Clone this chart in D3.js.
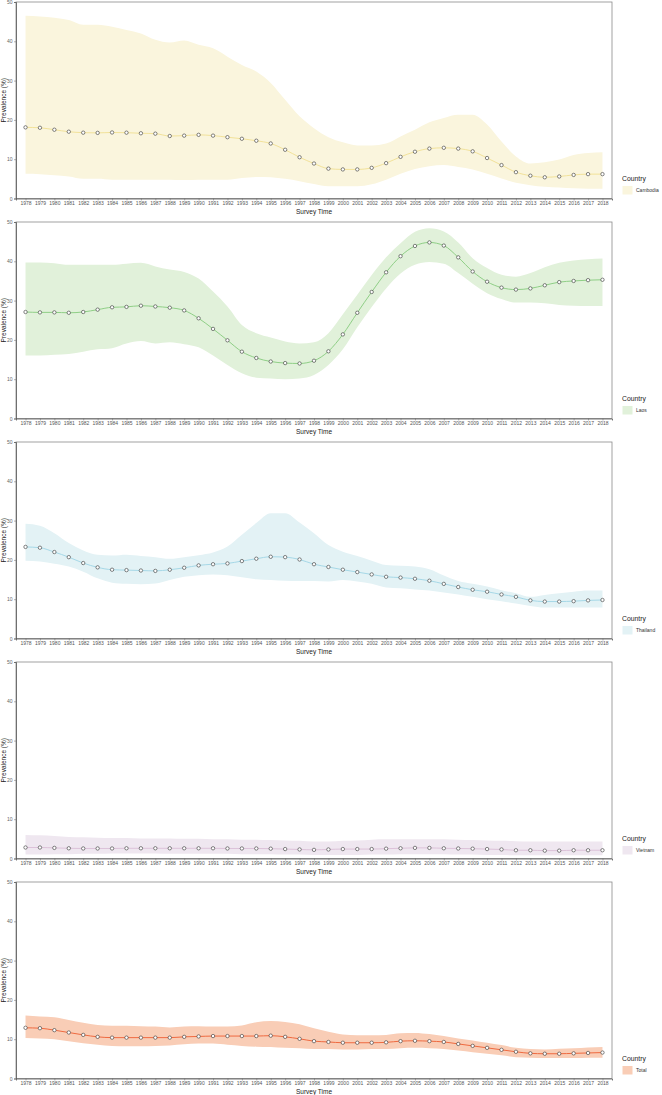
<!DOCTYPE html>
<html><head><meta charset="utf-8">
<script src="https://cdn.jsdelivr.net/npm/d3@7"></script>
<style>body{margin:0;background:#fff}svg{display:block}</style>
</head><body><svg id="c" width="662" height="1095"></svg>
<script>
const years = d3.range(1978, 2019).map(String);
const yTicks = [0, 10, 20, 30, 40, 50];
const countries = ["Cambodia", "Laos", "Thailand", "Vietnam", "Total"];

const cambodiaMean = [18.1,18.0,17.5,17.0,16.75,16.7,16.8,16.75,16.6,16.5,15.9,16.0,16.2,16.0,15.6,15.2,14.7,14.0,12.4,10.5,8.9,7.6,7.4,7.4,7.8,9.0,10.6,11.9,12.7,12.9,12.7,12.0,10.3,8.5,6.7,5.8,5.4,5.6,6.0,6.2,6.2];
const cambodiaUpper = [46.5,46.3,46.0,45.4,44.2,44.2,43.7,42.9,42.0,40.4,39.7,40.2,39.1,38.2,36.1,34.0,32.3,29.4,25.1,20.9,17.9,15.6,14.3,13.5,13.5,14.0,15.8,17.5,19.4,20.5,21.3,21.3,18.8,14.5,10.7,8.9,9.2,9.9,11.1,11.6,11.8];
const cambodiaLower = [6.3,6.2,5.9,5.6,5.0,5.0,4.8,4.8,4.8,4.8,4.8,4.7,4.8,4.8,4.8,5.2,5.5,5.4,5.0,4.4,3.7,3.1,3.1,3.1,3.6,4.8,6.3,7.5,8.2,8.5,8.0,7.4,6.3,5.1,4.0,3.4,3.0,2.8,2.6,2.5,2.5];

const laosMean = [27.1,27.0,27.0,26.9,27.1,27.7,28.3,28.4,28.7,28.5,28.2,27.5,25.5,22.8,19.9,17.0,15.4,14.5,14.1,14.0,14.7,17.1,21.4,26.9,32.2,37.2,41.3,43.9,44.8,44.0,41.0,37.4,34.8,33.3,32.8,33.1,33.9,34.7,35.0,35.2,35.3];
const laosUpper = [39.7,39.7,39.5,39.1,39.1,39.1,39.1,39.4,39.6,38.7,37.9,37.3,35.6,32.3,28.5,23.8,21.7,20.6,19.6,19.1,19.4,21.7,26.5,31.5,36.5,41.0,44.6,47.5,48.4,47.6,44.8,40.8,38.3,36.6,36.1,37.0,38.5,39.6,40.2,40.5,40.7];
const laosLower = [16.0,16.0,16.2,16.4,17.0,17.6,17.9,19.1,19.7,19.1,19.4,18.9,18.1,16.0,13.6,11.5,10.4,10.2,10.0,10.2,11.1,13.6,17.6,23.2,28.4,33.1,36.9,39.1,39.8,39.4,37.0,34.3,31.9,30.4,29.5,29.5,29.3,28.9,28.7,28.6,28.6];

const thailandMean = [23.3,23.1,22.0,20.7,19.2,18.1,17.5,17.4,17.3,17.2,17.5,18.0,18.6,18.9,19.1,19.7,20.3,20.8,20.7,20.1,18.9,18.2,17.5,16.9,16.3,15.7,15.5,15.2,14.7,13.9,13.1,12.4,11.9,11.2,10.6,9.7,9.4,9.4,9.5,9.7,9.8];
const thailandUpper = [29.2,28.7,26.8,24.3,22.4,21.3,21.1,21.3,21.0,20.7,20.3,20.7,21.2,21.9,23.4,26.4,29.4,31.9,31.9,29.5,26.8,23.8,22.1,21.0,19.8,18.7,18.5,18.3,17.6,16.0,14.6,13.9,13.2,12.3,11.5,10.6,11.1,11.5,11.9,12.2,12.2];
const thailandLower = [19.8,19.6,19.0,18.3,17.0,15.3,14.2,13.9,13.8,14.0,14.9,15.7,16.1,16.3,16.1,15.6,15.1,14.9,14.7,14.6,14.6,14.5,14.9,14.5,13.9,13.0,12.8,12.5,12.2,11.7,11.2,10.6,10.0,9.5,8.9,8.3,7.9,7.9,7.9,7.9,7.9];

const vietnamMean = [2.8,2.8,2.7,2.6,2.55,2.55,2.55,2.6,2.6,2.6,2.6,2.6,2.6,2.6,2.55,2.55,2.55,2.5,2.4,2.3,2.2,2.3,2.4,2.4,2.4,2.5,2.6,2.7,2.7,2.6,2.55,2.5,2.4,2.3,2.1,2.1,2.0,2.0,2.1,2.1,2.1];
const vietnamUpper = [6.0,5.9,5.7,5.5,5.4,5.3,5.2,5.2,5.1,5.1,5.1,5.0,5.0,4.9,4.9,4.8,4.8,4.7,4.6,4.5,4.3,4.3,4.5,4.6,4.8,4.9,4.9,4.9,4.9,4.9,4.8,4.7,4.6,4.5,4.4,4.3,4.3,4.3,4.3,4.3,4.3];
const vietnamLower = [1.0,1.0,1.1,1.1,1.2,1.2,1.3,1.3,1.3,1.3,1.2,1.2,1.2,1.2,1.2,1.1,1.1,1.1,1.0,1.0,0.9,0.9,0.9,0.9,1.0,1.0,1.1,1.1,1.1,1.1,1.0,1.0,0.9,0.9,0.8,0.8,0.8,0.8,0.8,0.8,0.8];

const totalMean = [12.9,12.8,12.3,11.7,11.1,10.6,10.4,10.4,10.4,10.4,10.4,10.6,10.7,10.8,10.8,10.8,10.8,10.9,10.6,10.1,9.5,9.3,9.1,9.1,9.1,9.2,9.5,9.6,9.5,9.3,8.8,8.3,7.8,7.3,6.8,6.4,6.3,6.3,6.4,6.5,6.6];
const totalUpper = [16.0,15.8,15.6,14.9,14.2,13.6,13.4,13.4,13.3,13.2,13.0,13.2,13.3,13.2,13.2,13.5,14.3,14.6,14.4,13.8,12.8,11.9,11.2,11.0,11.0,11.1,11.5,11.6,11.3,10.8,10.2,9.7,9.1,8.5,7.8,7.5,7.4,7.6,7.7,7.9,8.0];
const totalLower = [10.3,10.2,10.0,9.5,9.0,8.6,8.3,8.2,8.2,8.3,8.4,8.7,8.9,8.9,8.6,8.3,8.1,8.0,7.8,7.7,7.5,7.5,7.4,7.4,7.5,7.5,7.7,7.8,7.7,7.5,7.1,6.7,6.3,5.9,5.4,5.3,5.2,5.2,5.2,5.3,5.3];

const fillColors = ["#faf5dd", "#e1f1da", "#e3f2f5", "#efe7f0", "#f9cdb6"];
const lineColors = ["#f2e29a", "#8fcf86", "#a6d8e7", "#dcc2d9", "#ef6a40"];

const seriesMean = [cambodiaMean, laosMean, thailandMean, vietnamMean, totalMean];
const seriesUpper = [cambodiaUpper, laosUpper, thailandUpper, vietnamUpper, totalUpper];
const seriesLower = [cambodiaLower, laosLower, thailandLower, vietnamLower, totalLower];

const svg = d3.select("#c");
const font = "Arial, 'Liberation Sans', sans-serif";
const L = 16, R = 612, panelH = 196.5, gap = 220, top0 = 2;

const x = d3.scalePoint().domain(years).range([L, R]).padding(0.66);

countries.forEach((name, i) => {
  const top = top0 + i * gap, bottom = top + panelH;
  const y = d3.scaleLinear().domain([0, 50]).range([bottom, top]);
  const g = svg.append("g");
  const rows = years.map((yr, k) => ({yr, m: seriesMean[i][k], u: seriesUpper[i][k], l: seriesLower[i][k]}));

  // frame
  g.append("rect").attr("x", L).attr("y", top).attr("width", R - L).attr("height", panelH)
    .attr("fill", "none").attr("stroke", "#8a8a8a").attr("stroke-width", 0.8);

  g.append("path").datum(rows)
    .attr("d", d3.area().x(d => x(d.yr)).y0(d => y(d.l)).y1(d => y(d.u)).curve(d3.curveMonotoneX))
    .attr("fill", fillColors[i]);

  g.append("path").datum(rows)
    .attr("d", d3.line().x(d => x(d.yr)).y(d => y(d.m)).curve(d3.curveMonotoneX))
    .attr("fill", "none").attr("stroke", lineColors[i]).attr("stroke-width", 1);

  g.selectAll("circle").data(rows).join("circle")
    .attr("cx", d => x(d.yr)).attr("cy", d => y(d.m)).attr("r", 1.7)
    .attr("fill", "#fff").attr("stroke", "#333").attr("stroke-width", 0.6);

  // axes
  const ya = g.append("g").attr("transform", `translate(${L},0)`)
    .call(d3.axisLeft(y).tickValues(yTicks).tickSize(2).tickPadding(1.5));
  ya.select(".domain").attr("stroke", "#555").attr("stroke-width", 0.8);
  ya.selectAll(".tick line").attr("stroke", "#666").attr("stroke-width", 0.5);
  ya.selectAll("text").attr("font-size", 5).attr("fill", "#666").attr("font-family", font);

  const xa = g.append("g").attr("transform", `translate(0,${bottom})`)
    .call(d3.axisBottom(x).tickSize(2).tickPadding(1));
  xa.select(".domain").attr("stroke", "#555").attr("stroke-width", 0.8);
  xa.selectAll(".tick line").attr("stroke", "#666").attr("stroke-width", 0.5);
  xa.selectAll("text").attr("font-size", 5).attr("fill", "#555").attr("font-family", font);

  g.append("text").attr("x", (L + R) / 2).attr("y", bottom + 15.5).attr("text-anchor", "middle")
    .attr("font-size", 6.5).attr("fill", "#222").attr("font-family", font).text("Survey Time");

  g.append("text").attr("transform", `translate(5.5,${(top + bottom) / 2}) rotate(-90)`)
    .attr("text-anchor", "middle").attr("font-size", 6.5).attr("fill", "#222").attr("font-family", font)
    .text("Prevalence (%)");

  // legend
  g.append("text").attr("x", 622).attr("y", bottom - 17.5).attr("font-size", 6.8).attr("fill", "#222")
    .attr("font-family", font).text("Country");
  g.append("rect").attr("x", 622.5).attr("y", bottom - 12.5).attr("width", 10).attr("height", 8.5)
    .attr("fill", fillColors[i]);
  g.append("text").attr("x", 636).attr("y", bottom - 6.5).attr("font-size", 5).attr("fill", "#333")
    .attr("font-family", font).text(name);
});
</script></body></html>
